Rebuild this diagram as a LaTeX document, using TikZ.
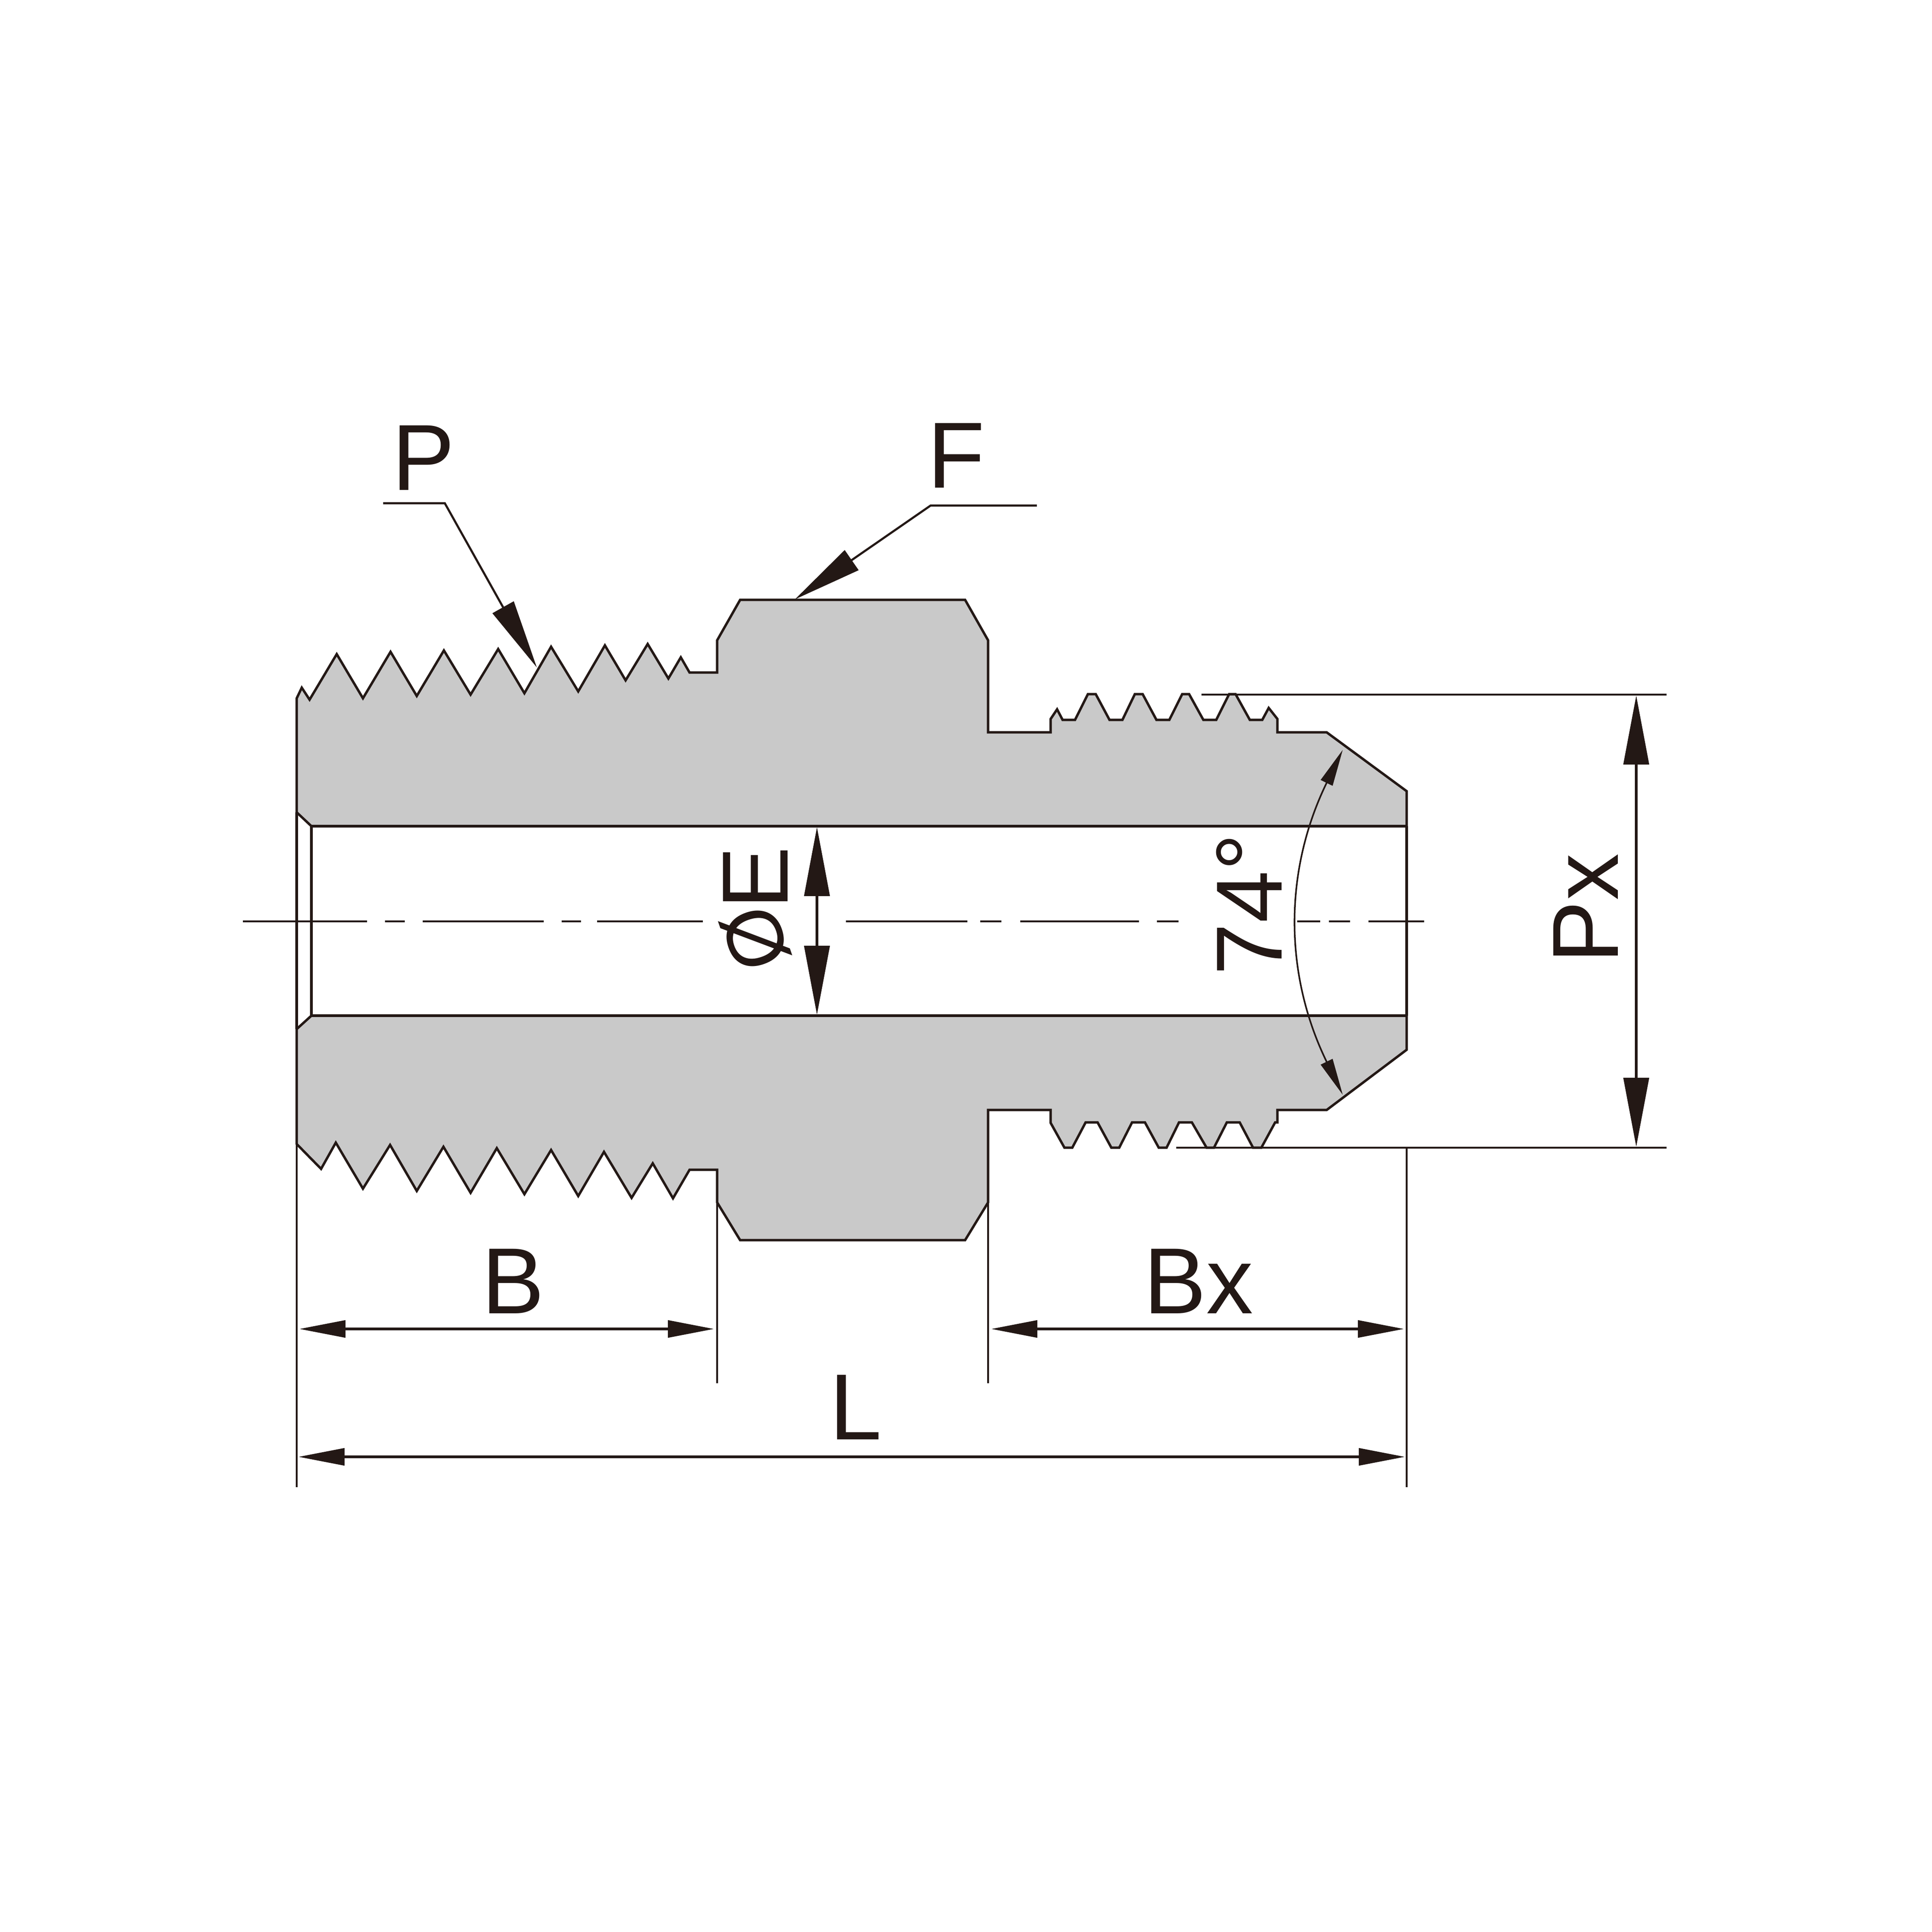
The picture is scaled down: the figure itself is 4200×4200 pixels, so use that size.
\documentclass[tikz,border=0pt]{standalone}
\usepackage{fontspec}
\setmainfont{Liberation Sans}
\usepackage{graphicx}
\usetikzlibrary{arrows.meta}
\definecolor{inkline}{HTML}{231815}
\definecolor{bodygray}{HTML}{C9C9C9}
\begin{document}
\begin{tikzpicture}[
      x=0.01cm, y=-0.01cm,
      outline/.style={draw=inkline, line width=1.5pt, line join=miter},
      bodyfill/.style={outline, fill=bodygray},
      boreline/.style={draw=inkline, line width=1.8pt},
      extline/.style={draw=inkline, line width=1.3pt},
      centerline/.style={draw=inkline, line width=1.4pt},
      dimh/.style={draw=inkline, line width=1.5pt, {Triangle[length=1cm,width=0.37cm]}-{Triangle[length=1cm,width=0.37cm]}},
      dimv/.style={draw=inkline, line width=1.5pt, {Triangle[length=1.5cm,width=0.55cm]}-{Triangle[length=1.5cm,width=0.55cm]}},
      leader/.style={draw=inkline, line width=1.3pt, -{Triangle[length=1.5cm,width=0.52cm]}},
      anglearc/.style={draw=inkline, line width=1pt, {Triangle[length=0.8cm,width=0.28cm]}-{Triangle[length=0.8cm,width=0.28cm]}},
      every node/.style={text=inkline, inner sep=0pt, font=\fontsize{58}{58}\selectfont},
    ]
      \useasboundingbox (0,0) rectangle (4200,4200);

      \draw[bodyfill] (645,1766) -- (645,1518) -- (656,1495) -- (673,1521) -- (732,1422) -- (789,1518)
        -- (849,1417) -- (906,1513) -- (965,1414) -- (1023,1510) -- (1083,1411) -- (1140,1507)
        -- (1198,1406) -- (1257,1503) -- (1315,1403) -- (1360,1479) -- (1408,1400) -- (1453,1475)
        -- (1480,1429) -- (1499,1462) -- (1559,1462) -- (1559,1392) -- (1609,1304) -- (2098,1304)
        -- (2148,1392) -- (2148,1592) -- (2284,1592) -- (2284,1563) -- (2298,1542) -- (2310,1565)
        -- (2337,1565) -- (2365,1509) -- (2382,1509) -- (2412,1565) -- (2440,1565) -- (2467,1509)
        -- (2484,1509) -- (2514,1565) -- (2542,1565) -- (2570,1509) -- (2585,1509) -- (2616,1565)
        -- (2644,1565) -- (2672,1509) -- (2686,1509) -- (2717,1565) -- (2744,1565) -- (2758,1539)
        -- (2777,1563) -- (2777,1592) -- (2884,1592) -- (3058,1720) -- (3058,1796) -- (677,1796) -- cycle;
      \draw[bodyfill] (645,2237) -- (645,2487) -- (698,2541) -- (730,2484) -- (789,2584) -- (848,2489)
        -- (906,2589) -- (964,2493) -- (1023,2593) -- (1080,2496) -- (1140,2596) -- (1198,2500)
        -- (1257,2600) -- (1313,2504) -- (1373,2604) -- (1419,2529) -- (1463,2605) -- (1499,2543)
        -- (1559,2543) -- (1559,2614) -- (1609,2696) -- (2098,2696) -- (2148,2614) -- (2148,2413)
        -- (2284,2413) -- (2284,2441) -- (2314,2495) -- (2331,2495) -- (2360,2440) -- (2386,2440)
        -- (2416,2495) -- (2433,2495) -- (2461,2440) -- (2489,2440) -- (2519,2495) -- (2536,2495)
        -- (2563,2440) -- (2591,2440) -- (2623,2495) -- (2639,2495) -- (2667,2440) -- (2695,2440)
        -- (2724,2495) -- (2742,2495) -- (2772,2440) -- (2777,2440) -- (2777,2413) -- (2884,2413)
        -- (3058,2282) -- (3058,2208) -- (677,2208) -- cycle;
      \draw[outline] (645,1766) -- (645,2237);
      \draw[outline] (677,1796) -- (677,2208);
      \draw[outline] (3058,1796) -- (3058,2208);
      \draw[boreline] (677,1796) -- (3058,1796);
      \draw[boreline] (677,2208) -- (3058,2208);

      \coordinate (cLeft) at (528,2003);
      \coordinate (cGapA) at (1528,2003);
      \coordinate (cGapB) at (1839,2003);
      \coordinate (cGapC) at (2562,2003);
      \coordinate (cGapD) at (2820,2003);
      \coordinate (cRight) at (3096,2003);
      \draw[centerline, dash pattern=on 27mm off 3.9mm on 4.3mm off 3.9mm on 26.3mm off 3.9mm on 4.2mm off 3.5mm on 23mm off 5mm] (cLeft) -- (cGapA);
      \draw[centerline, dash pattern=on 26.4mm off 2.8mm on 4.6mm off 4.1mm on 25.8mm off 3.9mm on 4.7mm off 5mm] (cGapB) -- (cGapC);
      \draw[centerline, dash pattern=on 5mm off 1.9mm on 4.6mm off 4mm on 12.1mm off 5mm] (cGapD) -- (cRight);

      \coordinate (extTopA) at (2612,1510);
      \coordinate (extTopB) at (3623,1510);
      \coordinate (extBotA) at (2557,2495);
      \coordinate (extBotB) at (3623,2495);
      \draw[extline] (extTopA) -- (extTopB);
      \draw[extline] (extBotA) -- (extBotB);
      \draw[extline] (645,2487) -- (645,3233);
      \draw[extline] (3058,2495) -- (3058,3233);
      \draw[extline] (1559,2614) -- (1559,3007);
      \draw[extline] (2148,2614) -- (2148,3007);

      \coordinate (dimBa) at (651,2889);
      \coordinate (dimBb) at (1552,2889);
      \coordinate (dimBxa) at (2155,2889);
      \coordinate (dimBxb) at (3052,2889);
      \coordinate (dimLa) at (649,3167);
      \coordinate (dimLb) at (3054,3167);
      \coordinate (dimPxa) at (3557,1512);
      \coordinate (dimPxb) at (3557,2493);
      \coordinate (dimEa) at (1776,1798);
      \coordinate (dimEb) at (1776,2206);
      \draw[dimh] (dimBa) -- (dimBb);
      \draw[dimh] (dimBxa) -- (dimBxb);
      \draw[dimh] (dimLa) -- (dimLb);
      \draw[dimv] (dimPxa) -- (dimPxb);
      \draw[dimv] (dimEa) -- (dimEb);

      \coordinate (arcTop) at (2919,1630);
      \coordinate (arcBot) at (2919,2380);
      \draw[anglearc] (arcTop) to[bend right=26] (arcBot);

      \coordinate (leadPa) at (833,1094);
      \coordinate (leadPb) at (967,1094);
      \coordinate (leadPc) at (1167,1451);
      \coordinate (leadFa) at (2254,1099);
      \coordinate (leadFb) at (2023,1099);
      \coordinate (leadFc) at (1728,1303);
      \draw[leader] (leadPa) -- (leadPb) -- (leadPc);
      \draw[leader] (leadFa) -- (leadFb) -- (leadFc);

      \node[anchor=base] (labelP) at (921,1065) {P};
      \node[anchor=base] (labelF) at (2079,1060) {F};
      \node[anchor=base] (labelB) at (1116,2855) {B};
      \node[anchor=base] (labelBx) at (2605,2855) {Bx};
      \node[anchor=base] (labelL) at (1860,3129) {L};
      \node[anchor=base, rotate=90] (labelPx) at (3517,1975) {Px};
      \node[anchor=base, rotate=90] (labelAngle) at (2786,1966) {74°};
      \node[anchor=base east, rotate=90] (labelE) at (1712,1840) {\makebox[0.62em][c]{\raisebox{0.05em}{\rotatebox[origin=c]{19}{\scalebox{0.85}{Ø}}}}E};
    \end{tikzpicture}
\end{document}
